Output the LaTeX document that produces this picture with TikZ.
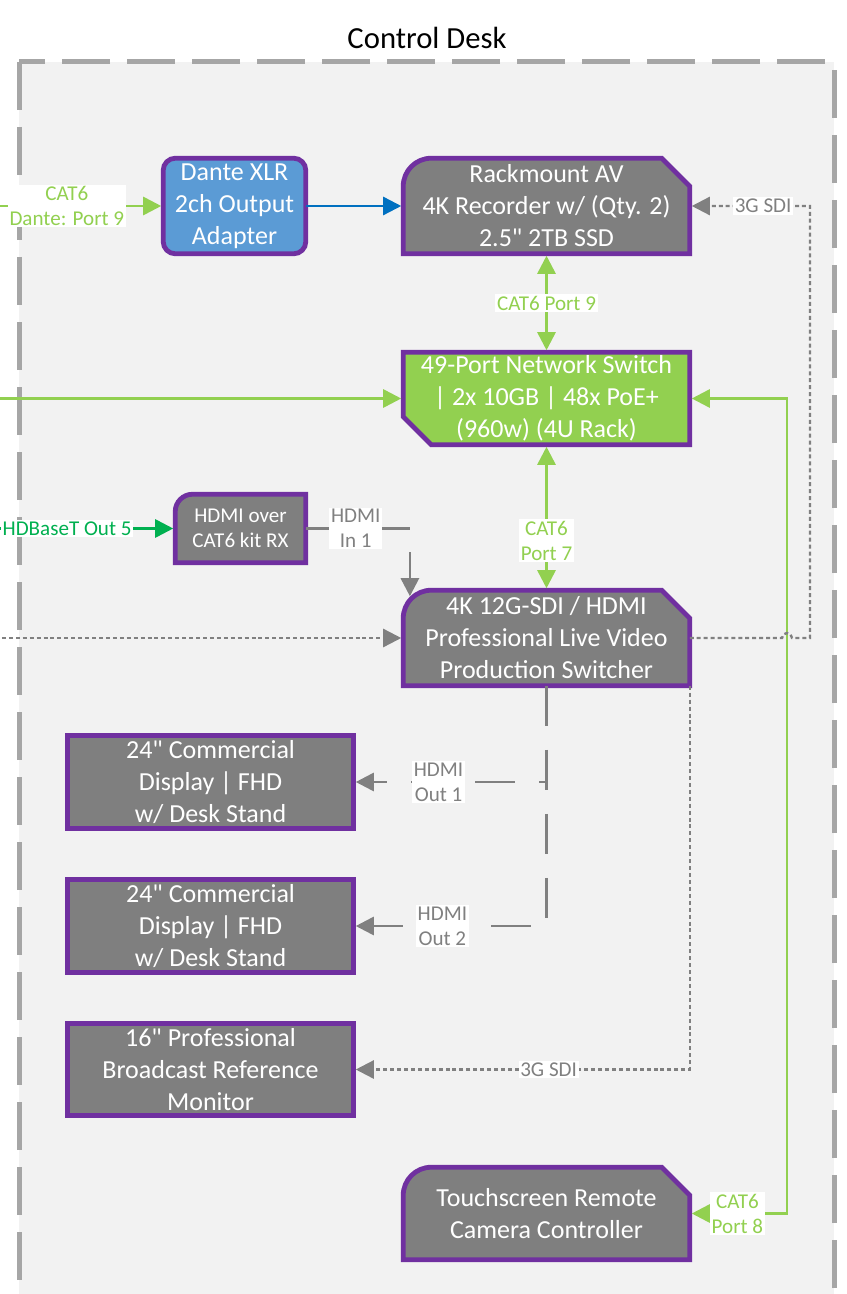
\documentclass[tikz,border=0pt]{standalone}
\usepackage{fontspec}
\setmainfont{Carlito}
\usetikzlibrary{arrows.meta,calc}

\definecolor{deskbg}{HTML}{F2F2F2}
\definecolor{deskedge}{HTML}{A6A6A6}
\definecolor{devpurple}{HTML}{7030A0}
\definecolor{devgray}{HTML}{7F7F7F}
\definecolor{catgreen}{HTML}{92D050}
\definecolor{hdbgreen}{HTML}{00B050}
\definecolor{dantefill}{HTML}{5B9BD5}
\definecolor{danteline}{HTML}{0070C0}
\definecolor{wiregray}{HTML}{808080}

\pgfdeclarelayer{deskbox}
\pgfdeclarelayer{devshapes}
\pgfsetlayers{deskbox,devshapes,main}

% outlines drawn around the device nodes
\newcommand\shapeRoundSnip[3]{%
  \path[devedge,fill=#2] (#1.south west) -- (#1.south east) -- ([yshift=-#3]#1.north east)
    -- ([xshift=-#3]#1.north east) -- ([xshift=#3]#1.north west)
    arc[start angle=90,end angle=180,radius=#3] -- cycle;}
\newcommand\shapeSnipBL[3]{%
  \path[devedge,fill=#2] (#1.north west) -- (#1.north east) -- (#1.south east)
    -- ([xshift=#3]#1.south west) -- ([yshift=#3]#1.south west) -- cycle;}
\newcommand\shapeRoundTL[3]{%
  \path[devedge,fill=#2] (#1.south west) -- (#1.south east) -- (#1.north east)
    -- ([xshift=#3]#1.north west) arc[start angle=90,end angle=180,radius=#3] -- cycle;}
\newcommand\shapeRounded[3]{%
  \path[devedge,fill=#2,rounded corners=#3] (#1.south west) rectangle (#1.north east);}
\newcommand\shapePlain[2]{%
  \path[devedge,fill=#2] (#1.south west) rectangle (#1.north east);}
\newcommand\inch{\textquotedbl}

\begin{document}
\begin{tikzpicture}[
  x=0.75pt, y=-0.75pt,
  >={Triangle[length=13.5pt,width=13.5pt]},
  devedge/.style={draw=devpurple, line width=3.6pt},
  dev/.style={inner sep=0pt, align=center, text=white, font=\fontsize{19.5}{24}\selectfont},
  devsmall/.style={dev, font=\fontsize{15.8}{19}\selectfont},
  lbl/.style={fill=white, inner sep=1.2pt, align=center, font=\fontsize{15.8}{18.8}\selectfont},
  cat6/.style={draw=catgreen, line width=2pt, ->, shorten >=1.5pt},
  hdbt/.style={draw=hdbgreen, line width=2pt, ->, shorten >=1.5pt},
  link/.style={draw=danteline, line width=1.8pt, ->, shorten >=1.5pt},
  sdi/.style={draw=wiregray, line width=1.8pt, dash pattern=on 3pt off 2.2pt, ->, shorten >=1.5pt},
  hdmi/.style={draw=wiregray, line width=2pt, dash pattern=on 30pt off 18pt, ->, shorten >=1.5pt},
  desk/.style={fill=deskbg, draw=deskedge, line width=3.75pt, dash pattern=on 36pt off 12.75pt},
]
\useasboundingbox (0,0) rectangle (846,1294);
\clip (0,0) rectangle (846,1294);

% the desk area
\node[font=\fontsize{23}{27}\selectfont] (title) at (427,38) {Control Desk};
\begin{pgfonlayer}{deskbox}
  \path[desk] (19,62) rectangle (834,1340);
\end{pgfonlayer}

% devices
\node[dev, minimum width=106.5pt, minimum height=71.25pt] (dante) at (234.5,206) {Dante XLR\\2ch Output\\Adapter};
\node[dev, minimum width=214.5pt, minimum height=71.25pt] (rec) at (546.5,206) {Rackmount AV\\4K Recorder w/ (Qty. 2)\\2.5\inch{} 2TB SSD};
\node[dev, minimum width=214.5pt, minimum height=69pt] (sw) at (546.5,398.5) {49-Port Network Switch\\| 2x 10GB | 48x PoE+\\(960w) (4U Rack)};
\node[devsmall, minimum width=97.5pt, minimum height=51pt] (kit) at (240.5,528.5) {HDMI over\\CAT6 kit RX};
\node[dev, minimum width=214.5pt, minimum height=71.25pt] (vsw) at (546.5,638) {4K 12G-SDI / HDMI\\Professional Live Video\\Production Switcher};
\node[dev, minimum width=214.5pt, minimum height=69.75pt] (disp1) at (210.5,782) {24\inch{} Commercial\\Display | FHD\\w/ Desk Stand};
\node[dev, minimum width=214.5pt, minimum height=69.75pt] (disp2) at (210.5,926) {24\inch{} Commercial\\Display | FHD\\w/ Desk Stand};
\node[dev, minimum width=214.5pt, minimum height=69pt] (mon) at (210.5,1069.5) {16\inch{} Professional\\Broadcast Reference\\Monitor};
\node[dev, minimum width=214.5pt, minimum height=69pt] (rcp) at (546.5,1213.5) {Touchscreen Remote\\Camera Controller};

\begin{pgfonlayer}{devshapes}
  \shapeRounded{dante}{dantefill}{9pt}
  \shapeRoundSnip{rec}{devgray}{21pt}
  \shapeSnipBL{sw}{catgreen}{21pt}
  \shapeRoundTL{kit}{devgray}{13pt}
  \shapeRoundSnip{vsw}{devgray}{21pt}
  \shapePlain{disp1}{devgray}
  \shapePlain{disp2}{devgray}
  \shapePlain{mon}{devgray}
  \shapeRoundSnip{rcp}{devgray}{21pt}
\end{pgfonlayer}

% feeds entering from outside the desk
\coordinate (inDante) at (-5,206);
\coordinate (inSw) at (-5,398.5);
\coordinate (inKit) at (-5,528.5);
\coordinate (inVsw) at (-5,638);
\coordinate (trunkR) at (787,800);
\coordinate (sdiR) at (810,400);

\draw[cat6] (inDante) -- node[lbl, text=catgreen, pos=0.427] (lDante) {CAT6\\Dante: Port 9} (dante.west);
\draw[link] (dante.east) -- (rec.west);
\draw[cat6, shorten <=1.5pt, <->] (rec.south) -- node[lbl, text=catgreen] (lRecSw) {CAT6 Port 9} (sw.north);
\draw[cat6] (inSw) -- (sw.west);
\draw[cat6, shorten <=1.5pt, <->] (sw.south) -- node[lbl, text=catgreen, pos=0.66] (lSwVsw) {CAT6\\Port 7} (vsw.north);
\draw[cat6, shorten <=1.5pt, <->] (sw.east) -| (trunkR) |- node[lbl, text=catgreen, pos=0.755] (lRcp) {CAT6\\Port 8} (rcp.east);
\draw[hdbt] (inKit) -- node[lbl, text=hdbgreen, pos=0.4] (lKit) {HDBaseT Out 5} (kit.west);
\draw[hdmi] (kit.east) -| node[lbl, text=wiregray, pos=0.24] (lHdmiIn) {HDMI\\In 1} ([xshift=5pt,yshift=-6pt]vsw.north west);
\draw[sdi] (inVsw) -- (vsw.west);
\draw[sdi] (vsw.east) -- ($(vsw.east -| trunkR)+(-5,0)$)
  arc[start angle=180, end angle=0, radius=3.75pt] -- (vsw.east -| sdiR)
  |- node[lbl, text=wiregray, pos=0.695] (lSdiRec) {3G SDI} (rec.east);
\draw[hdmi] (vsw.south) |- node[lbl, text=wiregray, pos=0.78] (lOut1) {HDMI\\Out 1} (disp1.east);
\draw[hdmi] (vsw.south) |- node[lbl, text=wiregray, pos=0.77] (lOut2) {HDMI\\Out 2} (disp2.east);
\draw[sdi] (vsw.south east) |- node[lbl, text=wiregray, pos=0.71] (lSdiMon) {3G SDI} (mon.east);
\end{tikzpicture}
\end{document}
